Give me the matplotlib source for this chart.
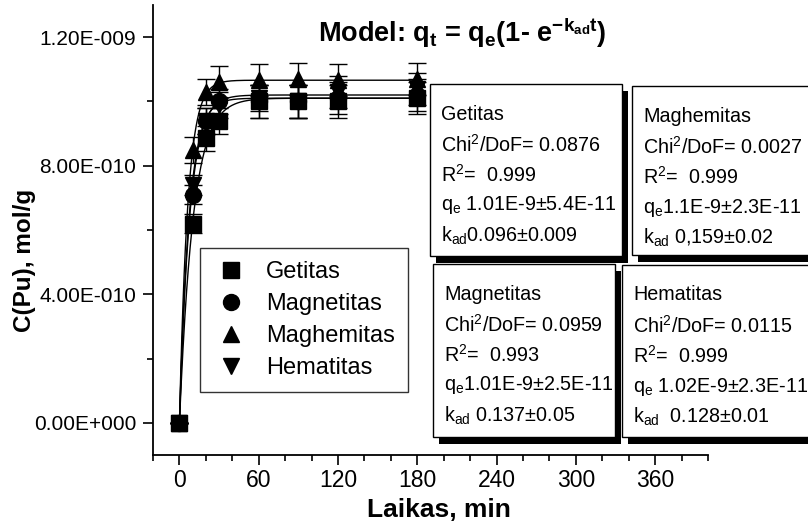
import numpy as np
import matplotlib
matplotlib.use('Agg')
import matplotlib.pyplot as plt
from matplotlib.patches import Rectangle
from matplotlib.lines import Line2D
from matplotlib.ticker import FixedLocator, MultipleLocator

plt.rcParams['font.family'] = ['Liberation Sans', 'DejaVu Sans']
plt.rcParams['mathtext.default'] = 'regular'

W, H = 808, 521

# sorption time, min
t_min = [0, 10, 20, 30, 60, 90, 120, 180]

# C(Pu), mol/g for each mineral
getitas = [0, 6.2e-10, 8.85e-10, 9.4e-10, 1.0e-9, 1.0e-9, 1.0e-9, 1.01e-9]
magnetitas = [0, 7.1e-10, 9.4e-10, 1.0e-9, 1.0e-9, 1.0e-9, 1.01e-9, 1.02e-9]
maghemitas = [0, 8.5e-10, 1.03e-9, 1.06e-9, 1.066e-9, 1.07e-9, 1.066e-9, 1.07e-9]
hematitas = [0, 7.4e-10, 9.4e-10, 9.9e-10, 1.01e-9, 1.0e-9, 1.03e-9, 1.04e-9]

getitas_err = [0, 3e-11, 4e-11, 4e-11, 5e-11, 5e-11, 5e-11, 5e-11]
magnetitas_err = [0, 3e-11, 4e-11, 4e-11, 5e-11, 5e-11, 5e-11, 5e-11]
maghemitas_err = [0, 4e-11, 4e-11, 5e-11, 5e-11, 5e-11, 5e-11, 5e-11]
hematitas_err = [0, 3e-11, 4e-11, 4e-11, 4e-11, 5e-11, 5e-11, 5e-11]

names = ['Getitas', 'Magnetitas', 'Maghemitas', 'Hematitas']
markers = ['s', 'o', '^', 'v']

# pseudo-first-order fit parameters
qe_fit = [1.01e-9, 1.01e-9, 1.066e-9, 1.02e-9]
kad_fit = [0.096, 0.137, 0.159, 0.128]

y_ticks = [0, 4e-10, 8e-10, 1.2e-9]
y_ticklabels = ['0.00E+000', '4.00E-010', '8.00E-010', '1.20E-009']
x_ticks = [0, 60, 120, 180, 240, 300, 360]

getitas_box = ['Getitas', 'Chi$^2$/DoF= 0.0876', 'R$^2$=  0.999',
               'q$_e$ 1.01E-9±5.4E-11', 'k$_{ad}$0.096±0.009']
maghemitas_box = ['Maghemitas', 'Chi$^2$/DoF= 0.0027', 'R$^2$=  0.999',
                  'q$_e$1.1E-9±2.3E-11', 'k$_{ad}$ 0,159±0.02']
magnetitas_box = ['Magnetitas', 'Chi$^2$/DoF= 0.0959', 'R$^2$=  0.993',
                  'q$_e$1.01E-9±2.5E-11', 'k$_{ad}$ 0.137±0.05']
hematitas_box = ['Hematitas', 'Chi$^2$/DoF= 0.0115', 'R$^2$=  0.999',
                 'q$_e$ 1.02E-9±2.3E-11', 'k$_{ad}$  0.128±0.01']

fig = plt.figure(figsize=(W / 100, H / 100), dpi=100)
ax = fig.add_axes([153 / W, 1 - 455 / H, (708 - 153) / W, (455 - 5) / H])

series = [getitas, magnetitas, maghemitas, hematitas]
errors = [getitas_err, magnetitas_err, maghemitas_err, hematitas_err]

# fitted curves q_t = q_e (1 - exp(-k_ad t))
t_fit = np.linspace(0, 180, 400)
for qe, k in zip(qe_fit, kad_fit):
    ax.plot(t_fit, qe * (1 - np.exp(-k * t_fit)), color='black', lw=1)

for y, e, m in zip(series, errors, markers):
    ax.errorbar(t_min, y, yerr=e, fmt=m, color='black', ms=11.5, mec='black',
                elinewidth=1, capsize=6.5, capthick=1)

ax.set_xlim(-20, 400)
ax.set_ylim(-1e-10, 1.3e-9)
ax.spines['top'].set_visible(False)
ax.spines['right'].set_visible(False)
for s in ['left', 'bottom']:
    ax.spines[s].set_linewidth(1.3)

ax.xaxis.set_major_locator(FixedLocator(x_ticks))
ax.xaxis.set_minor_locator(MultipleLocator(20))
ax.set_yticks(y_ticks)
ax.set_yticklabels(y_ticklabels)
ax.yaxis.set_minor_locator(FixedLocator([2e-10, 6e-10, 1e-9]))
ax.tick_params(axis='both', which='major', direction='out', length=7, width=1.2)
ax.tick_params(axis='both', which='minor', direction='out', length=4, width=1.2)
ax.tick_params(axis='x', which='major', labelsize=16.5, pad=3)
ax.tick_params(axis='y', which='major', labelsize=15, pad=5)

handles = [Line2D([], [], marker=m, color='black', ls='none', ms=11.5) for m in markers]
leg = ax.legend(handles, names, loc='upper left',
                bbox_to_anchor=(200 / W, 1 - 248 / H), bbox_transform=fig.transFigure,
                fontsize=17, frameon=True, fancybox=False, borderaxespad=0,
                borderpad=0.55, handlelength=1.5, handletextpad=0.75, labelspacing=0.43)
leg.get_frame().set_edgecolor('black')
leg.get_frame().set_linewidth(1)

fig.text(462 / W, 1 - 33 / H, r'Model: q$_t$ = q$_e$(1- e$^{-k_{ad}t}$)',
         fontsize=19.5, fontweight='bold', ha='center', va='center')
fig.text(439 / W, 1 - 510 / H, 'Laikas, min', fontsize=19, fontweight='bold',
         ha='center', va='center')
fig.text(24 / W, 1 - 260 / H, 'C(Pu), mol/g', fontsize=17.5, fontweight='bold',
         rotation=90, ha='center', va='center')


def fit_box(x0, y0, x1, y1, lines):
    w, h = (x1 - x0) / W, (y1 - y0) / H
    # black drop shadow, then the white box on top
    fig.patches.append(Rectangle(((x0 + 6) / W, 1 - (y1 + 7) / H), w, h,
                                 transform=fig.transFigure, facecolor='black',
                                 edgecolor='none', zorder=2))
    fig.patches.append(Rectangle((x0 / W, 1 - y1 / H), w, h,
                                 transform=fig.transFigure, facecolor='white',
                                 edgecolor='black', lw=1, zorder=2.1))
    for i, line in enumerate(lines):
        fig.text((x0 + 11) / W, 1 - (y0 + 30 + i * 30.5) / H, line,
                 fontsize=14.2, ha='left', va='center', zorder=3)


fit_box(430, 84, 622, 256, getitas_box)
fit_box(632, 86, 830, 255, maghemitas_box)
fit_box(433, 264, 615, 437, magnetitas_box)
fit_box(622, 265, 830, 437, hematitas_box)

fig.savefig('out.png', dpi=100)
